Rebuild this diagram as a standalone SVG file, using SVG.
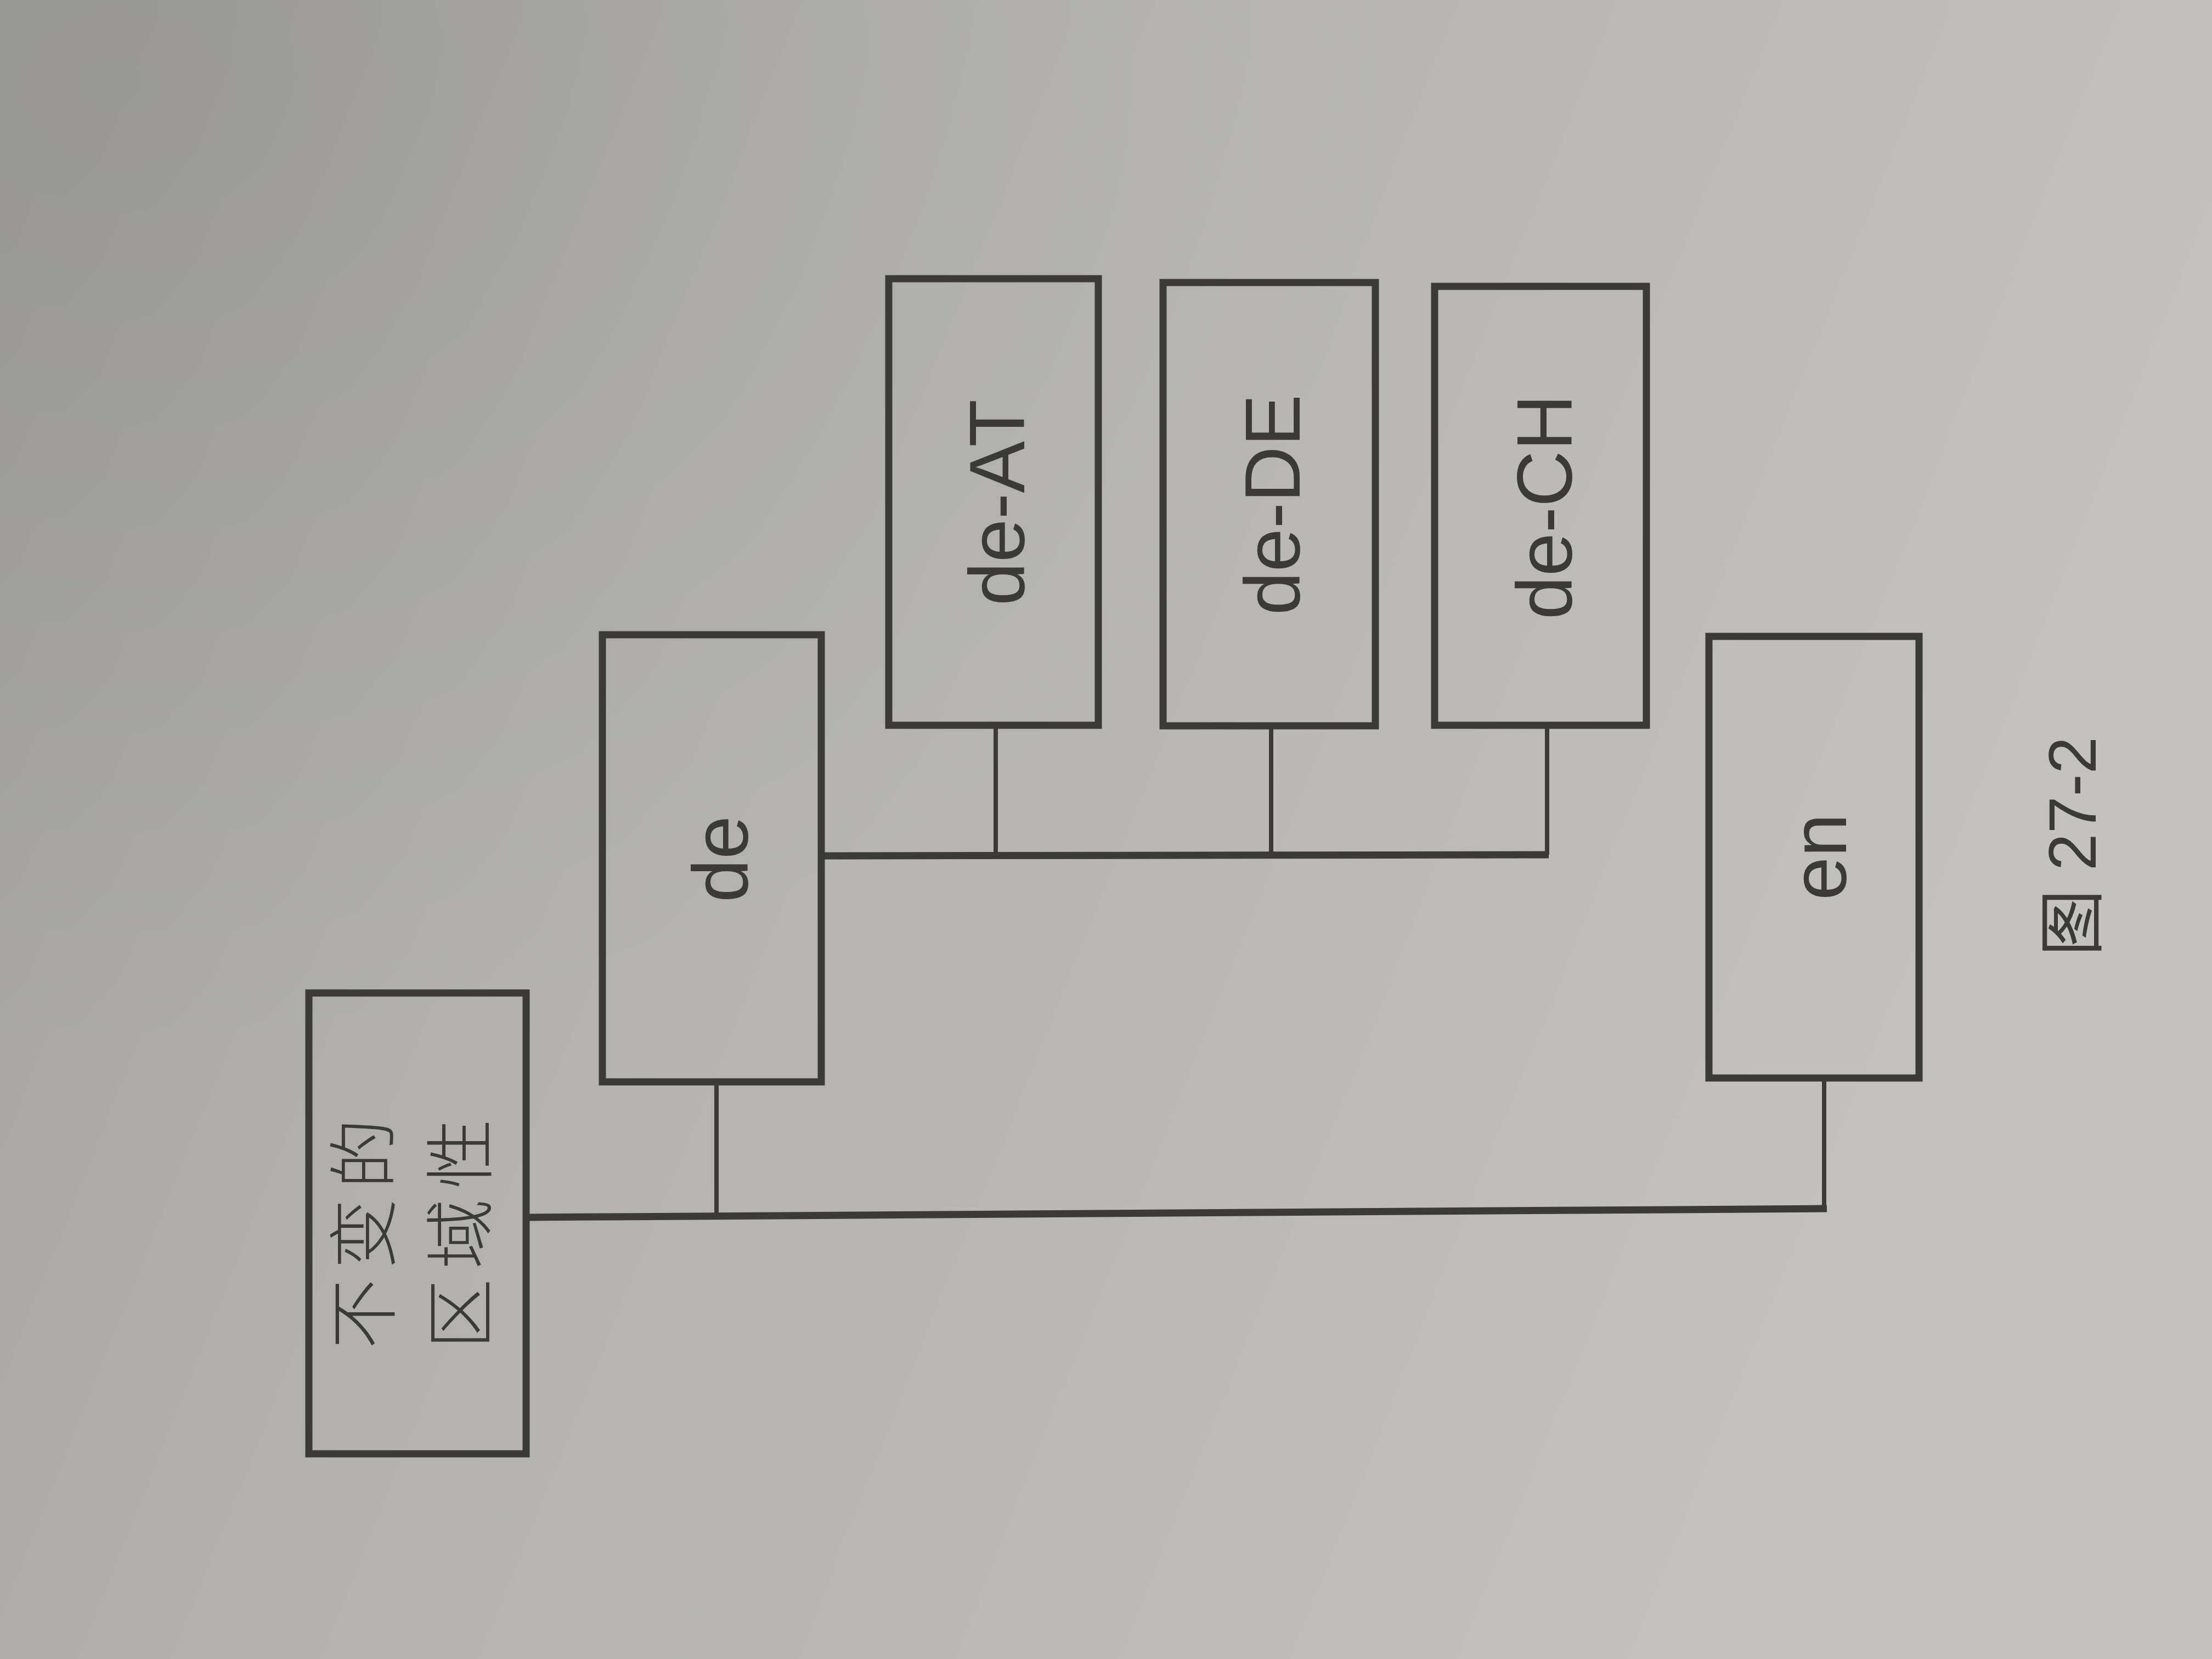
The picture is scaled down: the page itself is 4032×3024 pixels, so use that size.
<svg xmlns="http://www.w3.org/2000/svg" width="4032" height="3024" viewBox="0 0 4032 3024">
<defs>
<linearGradient id="bg" x1="0" y1="0" x2="1" y2="0.3">
<stop offset="0" stop-color="#a09f9b"/>
<stop offset="0.35" stop-color="#b1b0ac"/>
<stop offset="0.7" stop-color="#bbbab6"/>
<stop offset="1" stop-color="#c3c2be"/>
</linearGradient>
<radialGradient id="shade" cx="0.05" cy="0.05" r="0.6">
<stop offset="0" stop-color="#000" stop-opacity="0.06"/>
<stop offset="1" stop-color="#000" stop-opacity="0"/>
</radialGradient>
</defs>
<style>
.box{fill:none;stroke:#3b3a38;stroke-width:13}
.lab{font-family:"Liberation Sans","Noto Sans CJK SC",sans-serif;font-size:142px;fill:#3b3a38;text-anchor:middle}
.cjk{font-family:"Noto Sans CJK SC","Liberation Sans",sans-serif;font-size:128px;fill:#3b3a38;text-anchor:middle;font-weight:300}
.h{stroke:#3b3a38;stroke-width:13;fill:none}
.v{stroke:#3b3a38;stroke-width:8;fill:none}
</style>
<rect width="4032" height="3024" fill="url(#bg)"/>
<rect width="4032" height="3024" fill="url(#shade)"/>
<g id="connectors">
<path class="h" d="M960 2219 L3330 2203"/>
<path class="v" d="M1306 1972 L1306 2218"/>
<path class="v" d="M3325 1965 L3325 2203"/>
<path class="h" d="M1497 1560 L2823 1558"/>
<path class="v" d="M1815 1322 L1815 1560"/>
<path class="v" d="M2317 1323 L2317 1559"/>
<path class="v" d="M2820 1322 L2820 1558"/>
</g>
<g id="root">
<rect class="box" x="563" y="1810" width="396" height="840"/>
<g transform="translate(750 2240) rotate(-90)">
<text class="cjk" x="0" y="-40" letter-spacing="18">不变的</text>
<text class="cjk" x="0" y="136" letter-spacing="18">区域性</text>
</g>
</g>
<g id="de">
<rect class="box" x="1098" y="1157" width="399" height="815"/>
<text class="lab" transform="translate(1312 1566) rotate(-90)" dy="0.36em">de</text>
</g>
<g id="de-AT">
<rect class="box" x="1620" y="508" width="382" height="814"/>
<text class="lab" transform="translate(1816 916) rotate(-90)" dy="0.36em">de-AT</text>
</g>
<g id="de-DE">
<rect class="box" x="2120" y="515" width="387" height="808"/>
<text class="lab" transform="translate(2318 920) rotate(-90)" dy="0.36em">de-DE</text>
</g>
<g id="de-CH">
<rect class="box" x="2615" y="522" width="386" height="800"/>
<text class="lab" transform="translate(2814 924) rotate(-90)" dy="0.36em">de-CH</text>
</g>
<g id="en">
<rect class="box" x="3115" y="1160" width="383" height="805"/>
<text class="lab" transform="translate(3314 1562) rotate(-90)" dy="0.36em">en</text>
</g>
<text class="lab" style="font-size:122px" transform="translate(3776 1543) rotate(-90)" dy="0.36em">图 27-2</text>
</svg>
